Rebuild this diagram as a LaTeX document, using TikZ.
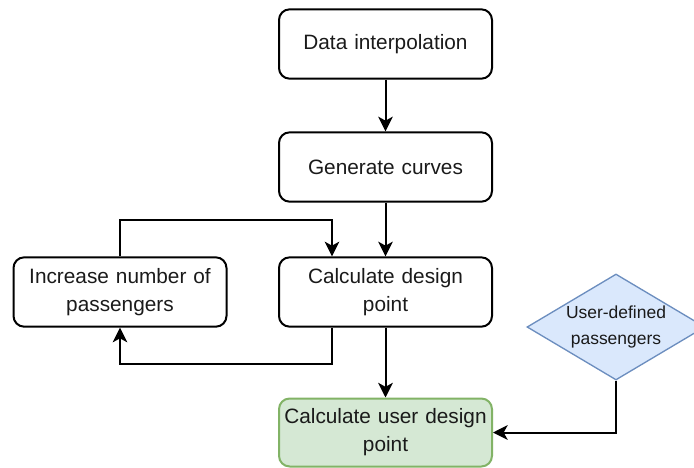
\documentclass[tikz,border=0pt]{standalone}
\usepackage{fontspec}
\setmainfont{Liberation Sans}
\usetikzlibrary{shapes.geometric,arrows.meta,calc}

\definecolor{inkc}{HTML}{1A1A1A}
\definecolor{bluefill}{HTML}{DAE8FC}
\definecolor{bluedraw}{HTML}{6C8EBF}
\definecolor{greenfill}{HTML}{D5E8D4}
\definecolor{greendraw}{HTML}{82B366}

\tikzset{
  proc/.style={draw=black, line width=1.5pt, rounded corners=8pt,
    minimum width=159.75pt, minimum height=52pt, align=center,
    text width=158pt, inner sep=0pt, text=inkc,
    font=\fontsize{15.6}{21}\selectfont},
  goal/.style={proc, draw=greendraw, fill=greenfill},
  choice/.style={diamond, draw=bluedraw, fill=bluefill, line width=1pt,
    aspect=1.68, minimum width=133.5pt, minimum height=79.5pt,
    inner sep=0pt, align=center, text=inkc,
    font=\fontsize{13.1}{19.5}\selectfont},
  flow/.style={draw=black, line width=1.5pt,
    -{Stealth[length=11pt,width=11pt,inset=3pt]}}
}

\begin{document}
\begin{tikzpicture}[x=0.75pt, y=-0.75pt]
  \useasboundingbox (0,0) rectangle (694,468);

  % process boxes
  \node[proc] (data) at (385.5,44)  {Data interpolation};
  \node[proc] (gen)  at (385.5,167) {Generate curves};
  \node[proc] (calc) at (385.5,292) {Calculate design\\point};
  \node[proc] (inc)  at (120,292)   {Increase number of\\passengers};
  \node[goal, minimum height=51pt] (user) at (385.5,432.5) {Calculate user design\\point};

  % user input
  \node[choice] (usr) at (616,327) {User-defined\\passengers};

  % main chain
  \draw[flow] (data) -- (gen);
  \draw[flow] (gen) -- (calc);
  \draw[flow] (calc) -- (user);

  % passenger loop
  \coordinate (calcin)  at ($(calc.north)+(-53.5,0)$);
  \coordinate (calcout) at ($(calc.south)+(-53.5,0)$);
  \draw[flow] (inc.north) -- ++(0,-36) -| (calcin);
  \draw[flow] (calcout) -- ++(0,36) -| (inc.south);

  % user-defined input
  \draw[flow] (usr.south) |- (user.east);
\end{tikzpicture}
\end{document}
